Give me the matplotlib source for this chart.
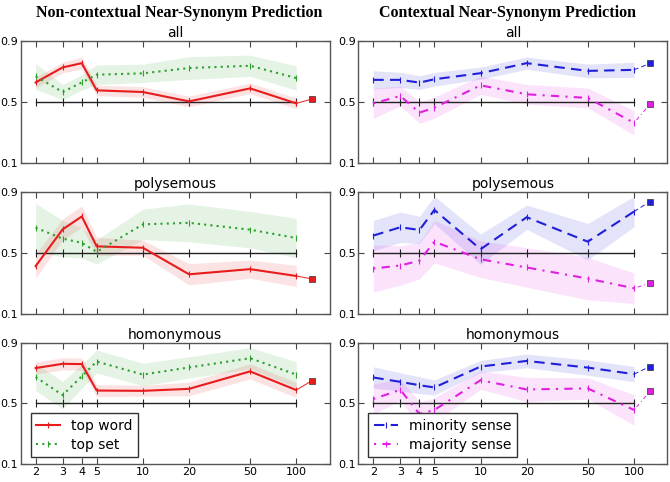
import numpy as np
import matplotlib
matplotlib.use("Agg")
import matplotlib.pyplot as plt
from matplotlib.ticker import FixedLocator, NullLocator, FixedFormatter

ks = [2, 3, 4, 5, 10, 20, 50, 100]
x_extra = 127
panel_titles = ["all", "polysemous", "homonymous"]

# Non-contextual: top word (red), top set (green)
top_word = [
    [0.63, 0.729, 0.757, 0.578, 0.567, 0.505, 0.591, 0.492],
    [0.414, 0.656, 0.741, 0.544, 0.535, 0.360, 0.394, 0.349],
    [0.733, 0.761, 0.759, 0.585, 0.583, 0.596, 0.711, 0.588],
]
top_word_err = [
    [0.035, 0.035, 0.04, 0.035, 0.035, 0.035, 0.035, 0.035],
    [0.08, 0.07, 0.07, 0.06, 0.05, 0.07, 0.06, 0.07],
    [0.04, 0.04, 0.04, 0.04, 0.035, 0.045, 0.05, 0.05],
]
top_word_extra = [0.521, 0.329, 0.651]

top_set = [
    [0.67, 0.567, 0.63, 0.681, 0.69, 0.725, 0.74, 0.659],
    [0.667, 0.595, 0.567, 0.508, 0.689, 0.699, 0.654, 0.599],
    [0.674, 0.555, 0.679, 0.776, 0.690, 0.737, 0.798, 0.690],
]
top_set_err = [
    [0.085, 0.05, 0.05, 0.065, 0.06, 0.075, 0.07, 0.08],
    [0.16, 0.12, 0.10, 0.08, 0.10, 0.125, 0.12, 0.13],
    [0.09, 0.09, 0.08, 0.075, 0.075, 0.07, 0.07, 0.085],
]

# Contextual: minority sense (blue), majority sense (magenta)
minority = [
    [0.647, 0.647, 0.629, 0.651, 0.691, 0.757, 0.706, 0.713],
    [0.615, 0.670, 0.652, 0.784, 0.525, 0.736, 0.575, 0.773],
    [0.671, 0.642, 0.620, 0.605, 0.743, 0.780, 0.736, 0.693],
]
minority_err = [
    [0.06, 0.05, 0.045, 0.045, 0.04, 0.04, 0.045, 0.05],
    [0.10, 0.10, 0.09, 0.09, 0.10, 0.08, 0.12, 0.10],
    [0.07, 0.06, 0.055, 0.05, 0.04, 0.045, 0.05, 0.05],
]
minority_extra = [0.755, 0.839, 0.743]

majority = [
    [0.492, 0.541, 0.431, 0.464, 0.611, 0.552, 0.528, 0.364],
    [0.398, 0.418, 0.450, 0.575, 0.459, 0.405, 0.332, 0.268],
    [0.529, 0.590, 0.430, 0.457, 0.653, 0.592, 0.599, 0.457],
]
majority_err = [
    [0.10, 0.065, 0.07, 0.07, 0.06, 0.065, 0.065, 0.08],
    [0.155, 0.13, 0.12, 0.14, 0.12, 0.13, 0.14, 0.10],
    [0.10, 0.07, 0.08, 0.08, 0.06, 0.08, 0.07, 0.10],
]
majority_extra = [0.486, 0.301, 0.579]

baseline = 0.5

fig = plt.figure(figsize=(6.7, 4.82), dpi=100)

lefts = [0.031, 0.535]
width = 0.461
bottoms = [0.662, 0.349, 0.037]
height = 0.252

def series(ax, y, err, color, ls, label, extra=None, lw=1.5):
    y = np.array(y); e = np.array(err)
    ax.fill_between(ks, y - e, y + e, color=color, alpha=0.12, lw=0)
    ax.plot(ks, y, color=color, ls=ls, lw=lw, marker='|', ms=4, mew=0.8,
            label=label, zorder=4)
    if extra is not None:
        ax.plot([ks[-1], x_extra], [y[-1], extra], color=color, ls=ls, lw=0.7, zorder=4)
        ax.plot([x_extra], [extra], marker='s', ms=5, color=color,
                mec='#333333', mew=0.5, ls='none', zorder=5)

red = '#e81c1c'
green = '#2ca02c'
blue = '#2020d8'
magenta = '#e020e0'

for c in range(2):
    for r in range(3):
        ax = fig.add_axes([lefts[c], bottoms[r], width, height])
        ax.plot(ks, [baseline] * len(ks), color='#222222', lw=1.0, marker='|',
                ms=6, mew=0.8, zorder=3)
        if c == 0:
            series(ax, top_word[r], top_word_err[r], red, '-', 'top word', top_word_extra[r])
            series(ax, top_set[r], top_set_err[r], green, (0, (1, 2)), 'top set')
        else:
            series(ax, minority[r], minority_err[r], blue, (0, (5, 3)), 'minority sense', minority_extra[r])
            series(ax, majority[r], majority_err[r], magenta, (0, (1, 3, 4, 3)), 'majority sense', majority_extra[r])
        ax.set_xscale('log')
        ax.set_xlim(1.6, 165)
        ax.set_ylim(0.1, 0.9)
        ax.xaxis.set_major_locator(FixedLocator(ks))
        ax.xaxis.set_minor_locator(NullLocator())
        if r == 2:
            ax.xaxis.set_major_formatter(FixedFormatter([str(k) for k in ks]))
        else:
            ax.set_xticklabels([])
        ax.set_yticks([0.1, 0.5, 0.9])
        ax.set_yticklabels(['0.1', '0.5', '0.9'])
        ax.tick_params(direction='in', top=True, right=True, length=4,
                       labelsize=8, pad=2, color='#444444')
        for s in ax.spines.values():
            s.set_color('#555555')
            s.set_linewidth(1.0)
        ax.set_title(panel_titles[r], fontsize=10, pad=3)
        if r == 2:
            leg = ax.legend(loc='lower left', fontsize=10, fancybox=False,
                            framealpha=1, edgecolor='#333333', handlelength=1.7,
                            borderpad=0.4, labelspacing=0.35,
                            bbox_to_anchor=(0.01, 0.0))

fig.text(0.268, 0.972, 'Non-contextual Near-Synonym Prediction', ha='center', va='center',
         fontsize=11.5, fontweight='bold', family='Liberation Serif')
fig.text(0.757, 0.972, 'Contextual Near-Synonym Prediction', ha='center', va='center',
         fontsize=11.5, fontweight='bold', family='Liberation Serif')

fig.savefig('out.png', dpi=100)
